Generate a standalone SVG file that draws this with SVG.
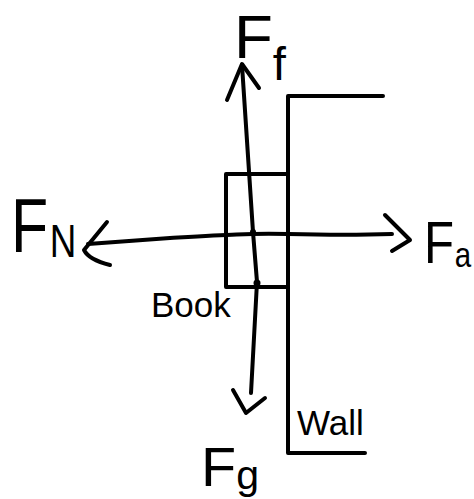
<svg xmlns="http://www.w3.org/2000/svg" width="474" height="499" viewBox="0 0 474 499">
<style>
.ln{fill:none;stroke:#000;stroke-width:4;stroke-linecap:round;stroke-linejoin:round}
.lbl{font-family:"Liberation Sans",Arial,sans-serif;fill:#000}
.hw{font-family:"Liberation Sans",Arial,sans-serif;fill:#000}
</style>
<rect width="474" height="499" fill="#fff"/>
<g id="wall">
<path class="ln" d="M383,96 L288,96 L288,453 L365,453"/>
<text class="lbl" x="297" y="435" font-size="35">Wall</text>
</g>
<g id="book">
<rect class="ln" x="226" y="174" width="62" height="113"/>
<text class="lbl" x="151" y="317" font-size="35">Book</text>
</g>
<g id="connectors">
<path class="ln" d="M253,232 L242,65"/>
<path class="ln" d="M227,100 L242,64 L259,88"/>
<path class="ln" d="M253,232 L257,282 L251,393"/>
<path class="ln" d="M233,390 L246,413 L265,398"/>
<path class="ln" d="M288,234 C250,233 220,235 170,238 L88,244"/>
<path class="ln" d="M107,222 L84,250 C88,258 98,262 110,265"/>
<path class="ln" d="M288,234 C330,235 360,235 392,234"/>
<path class="ln" d="M385,215 L410,240 L392,251"/>
<circle cx="253" cy="232" r="3"/>
<circle cx="257" cy="283" r="3.5"/>
</g>
<g id="label-ff">
<text class="hw" x="234" y="58" font-size="62" textLength="52" lengthAdjust="spacingAndGlyphs">F<tspan font-size="46" dy="22">f</tspan></text>
</g>
<g id="label-fn">
<text class="hw" transform="translate(11,252) scale(0.8,1)" x="0" y="0" font-size="76">F<tspan font-size="46" dx="2" dy="5">N</tspan></text>
</g>
<g id="label-fa">
<text class="hw" transform="translate(424,263) scale(0.82,1)" x="0" y="0" font-size="60">F<tspan font-size="36" dx="1" dy="4">a</tspan></text>
</g>
<g id="label-fg">
<text class="hw" x="201" y="486" font-size="56" textLength="58" lengthAdjust="spacingAndGlyphs">F<tspan font-size="40" dy="3">g</tspan></text>
</g>
</svg>
